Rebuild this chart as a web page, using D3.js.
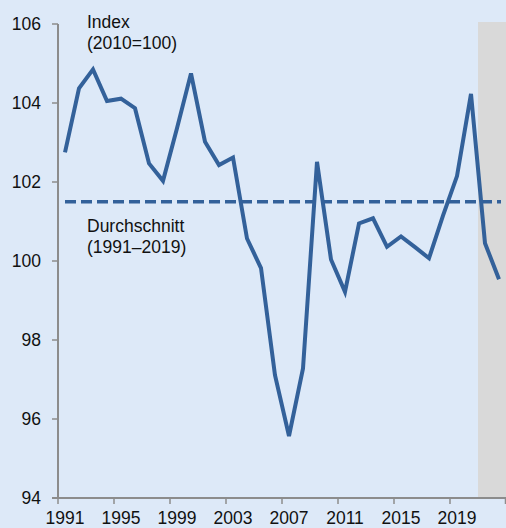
<!DOCTYPE html>
<html>
<head>
<meta charset="utf-8">
<script src="https://cdn.jsdelivr.net/npm/d3@7"></script>
<style>
  body { margin: 0; background: #dde9f8; }
  svg { display: block; font-family: "Liberation Sans", Arial, sans-serif; }
</style>
</head>
<body>
<svg id="chart"></svg>
<script>
// index values per year (2010=100)
var years = d3.range(1991, 2023);
var values = [102.75, 104.37, 104.85, 104.05, 104.11, 103.87, 102.47, 102.03,
              103.36, 104.75, 103.02, 102.43, 102.62, 100.57, 99.82, 97.11,
              95.57, 97.28, 102.51, 100.04, 99.22, 100.95, 101.08, 100.36,
              100.62, 100.35, 100.07, 101.15, 102.15, 104.23, 100.45, 99.54];
var average = 101.5;
var yTicks = [94, 96, 98, 100, 102, 104, 106];
var xTickYears = [1991, 1995, 1999, 2003, 2007, 2011, 2015, 2019];
var shadeFrom = 2021;

var width = 506, height = 528;
var plotLeft = 58, plotRight = 506, plotTop = 24, plotBottom = 498;

var svg = d3.select("#chart")
    .attr("width", width)
    .attr("height", height);

var x = d3.scaleBand().domain(years).range([plotLeft, plotRight]).padding(0);
var y = d3.scaleLinear().domain([94, 106]).range([plotBottom, plotTop]);
var cx = function(yr) { return x(yr) + x.bandwidth() / 2; };

var axisColor = "#8c8c8c";
var lineColor = "#33619a";

// shaded area (forecast)
svg.append("rect")
    .attr("x", x(shadeFrom))
    .attr("y", plotTop - 2)
    .attr("width", plotRight - x(shadeFrom))
    .attr("height", plotBottom - plotTop + 2)
    .attr("fill", "#d9d9d9");

// y axis
svg.append("line")
    .attr("x1", plotLeft).attr("x2", plotLeft)
    .attr("y1", plotTop).attr("y2", plotBottom)
    .attr("stroke", axisColor).attr("stroke-width", 2);

svg.selectAll(".ytick")
    .data(yTicks)
    .enter()
    .append("line")
    .attr("x1", plotLeft - 6).attr("x2", plotLeft)
    .attr("y1", function(d) { return y(d); })
    .attr("y2", function(d) { return y(d); })
    .attr("stroke", axisColor).attr("stroke-width", 1.5);

svg.selectAll(".ylabel")
    .data(yTicks)
    .enter()
    .append("text")
    .attr("x", 41)
    .attr("y", function(d) { return y(d) + 6; })
    .attr("text-anchor", "end")
    .attr("font-size", 17.5)
    .attr("fill", "#111")
    .text(function(d) { return d; });

// x axis
svg.append("line")
    .attr("x1", plotLeft - 6).attr("x2", plotRight)
    .attr("y1", plotBottom).attr("y2", plotBottom)
    .attr("stroke", axisColor).attr("stroke-width", 2);

var tickXs = xTickYears.map(function(d) { return x(d); }).concat([plotRight - 0.5]);
svg.selectAll(".xtick")
    .data(tickXs)
    .enter()
    .append("line")
    .attr("x1", function(d) { return d; })
    .attr("x2", function(d) { return d; })
    .attr("y1", plotBottom).attr("y2", plotBottom + 6)
    .attr("stroke", axisColor).attr("stroke-width", 1.5);

svg.selectAll(".xlabel")
    .data(xTickYears)
    .enter()
    .append("text")
    .attr("x", function(d) { return cx(d); })
    .attr("y", 524)
    .attr("text-anchor", "middle")
    .attr("font-size", 17.5)
    .attr("fill", "#111")
    .text(function(d) { return d; });

// average line
svg.append("line")
    .attr("x1", cx(years[0]))
    .attr("x2", cx(years[years.length - 1]) + 2)
    .attr("y1", y(average)).attr("y2", y(average))
    .attr("stroke", lineColor)
    .attr("stroke-width", 3.5)
    .attr("stroke-dasharray", "11,5");

// index line
var line = d3.line()
    .x(function(d, i) { return cx(years[i]); })
    .y(function(d) { return y(d); });

svg.append("path")
    .datum(values)
    .attr("d", line)
    .attr("fill", "none")
    .attr("stroke", lineColor)
    .attr("stroke-width", 4);

// annotations
var notes = [
    {x: 87, y: 28, lines: ["Index", "(2010=100)"]},
    {x: 87, y: 232, lines: ["Durchschnitt", "(1991\u20132019)"]}
];
notes.forEach(function(n) {
    var t = svg.append("text")
        .attr("x", n.x).attr("y", n.y)
        .attr("font-size", 17.5)
        .attr("fill", "#111");
    n.lines.forEach(function(s, i) {
        t.append("tspan").attr("x", n.x).attr("dy", i === 0 ? 0 : 21).text(s);
    });
});
</script>
</body>
</html>
